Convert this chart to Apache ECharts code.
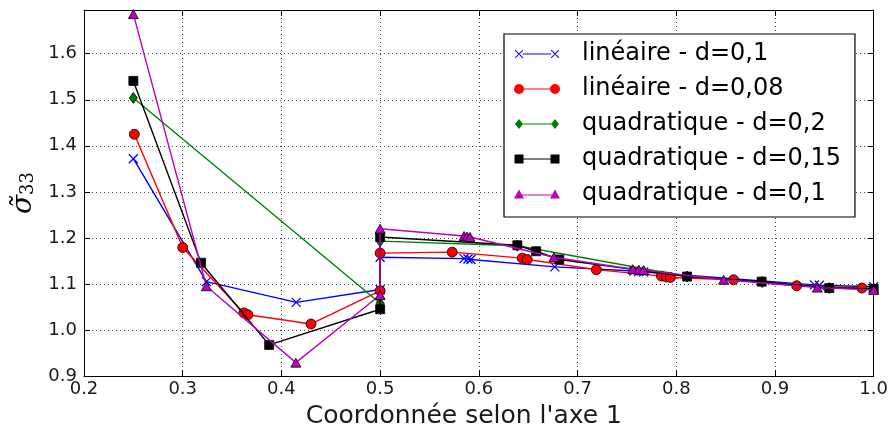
<!DOCTYPE html>
<html><head><meta charset="utf-8">
<script src="https://cdn.jsdelivr.net/npm/echarts@6/dist/echarts.min.js"></script>
<style>html,body{margin:0;padding:0;background:#fff}#c{width:891px;height:436px}</style>
</head><body><div id="c"></div>
<script>
// ---- data ----
const seriesNames = ['linéaire - d=0,1', 'linéaire - d=0,08', 'quadratique - d=0,2', 'quadratique - d=0,15', 'quadratique - d=0,1'];
const linD01 = [[0.25,1.372],[0.324,1.105],[0.415,1.06],[0.5,1.088],[0.5,1.158],[0.585,1.155],[0.589,1.154],[0.592,1.153],[0.677,1.137],[0.757,1.128],[0.762,1.127],[0.767,1.126],[0.94,1.098],[0.945,1.097],[1.0,1.094]];
const linD008 = [[0.251,1.425],[0.30,1.179],[0.362,1.037],[0.366,1.033],[0.43,1.013],[0.5,1.085],[0.5,1.167],[0.573,1.169],[0.644,1.156],[0.649,1.153],[0.719,1.131],[0.785,1.117],[0.79,1.115],[0.794,1.114],[0.858,1.109],[0.922,1.096],[0.988,1.091]];
const quadD02 = [[0.25,1.504],[0.5,1.058],[0.5,1.193],[0.639,1.183],[0.811,1.116],[0.887,1.104],[0.955,1.091],[1.0,1.09]];
const quadD015 = [[0.25,1.541],[0.3185,1.146],[0.3876,0.9675],[0.5,1.045],[0.5,1.202],[0.639,1.184],[0.658,1.171],[0.6815,1.153],[0.811,1.116],[0.8865,1.105],[0.955,1.091],[1.0,1.089]];
const quadD01 = [[0.25,1.686],[0.324,1.095],[0.4146,0.929],[0.5,1.076],[0.5,1.22],[0.585,1.204],[0.588,1.203],[0.591,1.202],[0.676,1.158],[0.756,1.132],[0.762,1.131],[0.767,1.13],[0.848,1.109],[0.943,1.092],[1.0,1.087]];
const xTicks = [0.2,0.3,0.4,0.5,0.6,0.7,0.8,0.9,1.0];
const yTicks = [0.9,1.0,1.1,1.2,1.3,1.4,1.5,1.6];
const xLabel = "Coordonnée selon l'axe 1";

const colors = ['#0000ff','#ff0000','#008000','#000000','#bf00bf'];
const FONT = 'DejaVu Sans';
const X_SYM = 'path://M0,0 L10,10 M10,0 L0,10';

const icons = [
  'path://M0.8,1.5 L1.5,0.8 L9.2,8.5 L8.5,9.2 Z M8.5,0.8 L9.2,1.5 L1.5,9.2 L0.8,8.5 Z M9,4.5 L37,4.5 L37,5.5 L9,5.5 Z M36.8,1.5 L37.5,0.8 L45.2,8.5 L44.5,9.2 Z M44.5,0.8 L45.2,1.5 L37.5,9.2 L36.8,8.5 Z M0,0 L0.01,0 Z M46,10 L45.99,10 Z',
  'path://M0,5 A5,5 0 1,1 10,5 A5,5 0 1,1 0,5 Z M10,4.5 L36,4.5 L36,5.5 L10,5.5 Z M36,5 A5,5 0 1,1 46,5 A5,5 0 1,1 36,5 Z',
  'path://M5,0 L9,5 L5,10 L1,5 Z M9,4.5 L37,4.5 L37,5.5 L9,5.5 Z M41,0 L45,5 L41,10 L37,5 Z M0,0 L0.01,0 Z M46,10 L45.99,10 Z',
  'path://M0.5,0.5 L9.5,0.5 L9.5,9.5 L0.5,9.5 Z M9.5,4.5 L36.5,4.5 L36.5,5.5 L9.5,5.5 Z M36.5,0.5 L45.5,0.5 L45.5,9.5 L36.5,9.5 Z M0,0 L0.01,0 Z M46,10 L45.99,10 Z',
  'path://M5,0.5 L10,9.5 L0,9.5 Z M7,5.5 L39,5.5 L39,6.5 L7,6.5 Z M41,0.5 L46,9.5 L36,9.5 Z M0,0 L0.01,0 Z M46,10 L45.99,10 Z'
];

const datasets = [linD01, linD008, quadD02, quadD015, quadD01];
const symbols = [X_SYM, 'circle', 'diamond', 'rect', 'triangle'];
const symSizes = [9, 10, [8,11], 9, [10,9]];

const series = datasets.map((d, i) => ({
  name: seriesNames[i],
  type: 'line',
  data: d,
  xAxisIndex: 0, yAxisIndex: 0,
  symbol: symbols[i],
  symbolSize: symSizes[i],
  showSymbol: true,
  clip: true,
  silent: true,
  lineStyle: {color: colors[i], width: 1.4},
  itemStyle: i === 0
    ? {color: colors[i], borderColor: colors[i], borderWidth: 1.3}
    : {color: colors[i], borderColor: '#000', borderWidth: 0.8},
  emphasis: {disabled: true},
  z: 2 + i
}));

const axisCommon = {
  type: 'value',
  axisLine: {show: true, onZero: false, lineStyle: {color: '#000', width: 1}},
  axisTick: {show: true, inside: true, length: 6, lineStyle: {color: '#000'}},
};

const chart = echarts.init(document.getElementById('c'), null, {renderer: 'canvas'});
chart.setOption({
  animation: false,
  backgroundColor: '#fff',
  grid: {left: 84, right: 16, top: 10, bottom: 60, containLabel: false},
  xAxis: [
    Object.assign({}, axisCommon, {
      position: 'bottom', min: xTicks[0], max: xTicks[xTicks.length-1], interval: 0.1,
      name: xLabel, nameLocation: 'middle', nameGap: 28,
      nameTextStyle: {fontFamily: FONT, fontSize: 25, color: '#1a1a1a', padding: [0, 30, 0, 0]},
      axisLabel: {fontFamily: FONT, fontSize: 18, color: '#1a1a1a', margin: 4, formatter: v => v.toFixed(1)},
      splitLine: {show: true, lineStyle: {color: '#444', width: 1, type: [1, 3]}}
    }),
    Object.assign({}, axisCommon, {
      position: 'top', min: xTicks[0], max: xTicks[xTicks.length-1], interval: 0.1,
      axisLabel: {show: false}, splitLine: {show: false}
    })
  ],
  yAxis: [
    Object.assign({}, axisCommon, {
      position: 'left', min: yTicks[0], max: 1.695, interval: 0.1,
      name: '{s|σ̃}{n|33}', nameLocation: 'middle', nameGap: 45, nameRotate: 90,
      nameTextStyle: {
        rich: {
          s: {fontFamily: 'DejaVu Serif', fontStyle: 'italic', fontSize: 28, color: '#000'},
          n: {fontFamily: 'DejaVu Serif', fontSize: 18, color: '#000', verticalAlign: 'bottom', padding: [10,0,0,0]}
        }
      },
      axisLabel: {fontFamily: FONT, fontSize: 18, color: '#1a1a1a', margin: 7, showMaxLabel: false, formatter: v => v.toFixed(1)},
      splitLine: {show: true, lineStyle: {color: '#444', width: 1, type: [1, 3]}}
    }),
    Object.assign({}, axisCommon, {
      position: 'right', min: yTicks[0], max: 1.695, interval: 0.1,
      axisLabel: {show: false}, splitLine: {show: false}
    })
  ],
  legend: {
    orient: 'vertical',
    left: 504, top: 34,
    padding: [8, 14, 11, 10],
    itemGap: 11,
    itemWidth: 46, itemHeight: 10,
    backgroundColor: '#fff',
    borderColor: '#000', borderWidth: 1.2,
    borderRadius: 0,
    selectedMode: false,
    textStyle: {fontFamily: FONT, fontSize: 24, color: '#000', padding: [0,0,0,17]},
    itemStyle: {borderWidth: 0},
    data: seriesNames.map((n, i) => ({name: n, icon: icons[i]}))
  },
  series: series
});
</script>
</body></html>
